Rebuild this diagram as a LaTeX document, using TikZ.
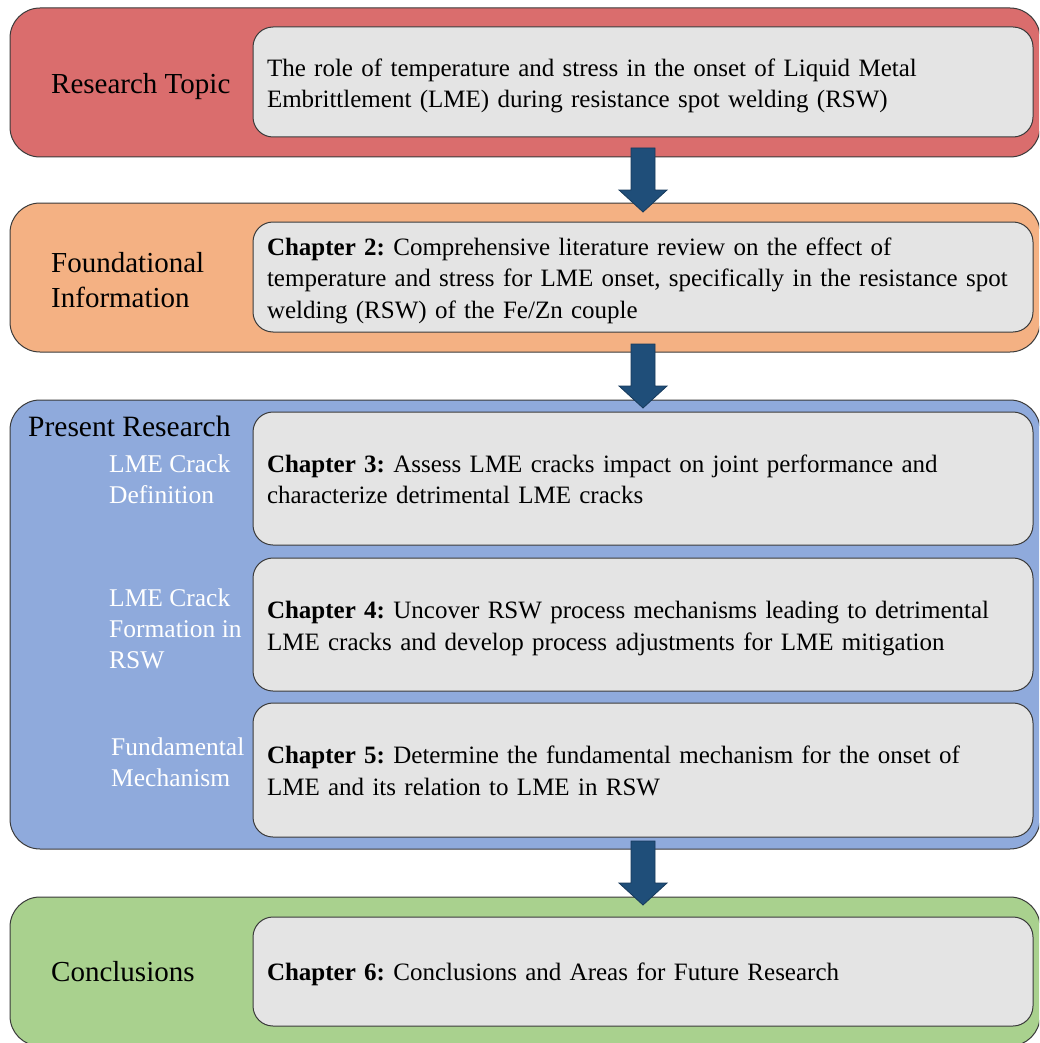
\documentclass[tikz,border=0pt]{standalone}
\usepackage{fontspec}
\setmainfont{Liberation Serif}
\usetikzlibrary{calc}
\definecolor{topicred}{HTML}{DA6D6D}
\definecolor{foundorange}{HTML}{F4B183}
\definecolor{presentblue}{HTML}{8FAADC}
\definecolor{conclgreen}{HTML}{A9D18E}
\definecolor{chapgray}{HTML}{E4E4E4}
\definecolor{arrowblue}{HTML}{1F4E79}
\definecolor{edgegray}{HTML}{3A3A3A}
\frenchspacing

\begin{document}
\begin{tikzpicture}[x=1pt,y=-1pt,
  band/.style={draw=edgegray, line width=1pt, rounded corners=30pt,
    minimum width=1030pt, inner sep=0pt},
  chapbox/.style={draw=edgegray, line width=1pt, fill=chapgray,
    rounded corners=20pt, minimum width=780pt, text width=752pt,
    inner xsep=14pt, inner ysep=0pt, align=left,
    font=\fontsize{25}{31.5}\selectfont},
  % a tall strut on the first line pushes the text block down a little
  chapdrop/.style={execute at begin node={\rule{0pt}{#1}}},
  heading/.style={font=\fontsize{29}{35}\selectfont, inner sep=0pt,
    align=left, anchor=west},
  sublabel/.style={font=\fontsize{25.5}{31}\selectfont, text=white,
    inner sep=0pt, align=left, anchor=west},
  flowarrow/.style={draw=arrowblue!75!black, fill=arrowblue,
    line width=0.8pt, line join=miter},
  pics/downarrow/.style={code={
    \draw[flowarrow] (-12pt,32pt) -- (12pt,32pt) -- (12pt,-10pt)
      -- (24pt,-10pt) -- (0pt,-32pt) -- (-24pt,-10pt) -- (-12pt,-10pt) -- cycle;}}
]
\useasboundingbox (0,0) rectangle (1039,1043);
\clip (0,0) rectangle (1039,1043);

% Research topic
\node[band, fill=topicred, minimum height=149pt] (topic) at (525,82.5) {};
\node[chapbox, chapdrop=25pt, minimum height=110pt] (topictext) at (643,82)
  {The role of temperature and stress in the onset of Liquid Metal\\
   Embrittlement (LME) during resistance spot welding (RSW)};
\node[heading] (topiclabel) at (51,87) {Research Topic};

% Foundational information
\node[band, fill=foundorange, minimum height=149pt] (found) at (525,277.5) {};
\node[chapbox, chapdrop=25pt, minimum height=110pt] (foundtext) at (643,277)
  {\textbf{Chapter 2:} Comprehensive literature review on the effect of\\
   temperature and stress for LME onset, specifically in the resistance spot\\
   welding (RSW) of the Fe/Zn couple};
\node[heading] (foundlabel) at (51,280) {Foundational\\Information};

% Present research
\node[band, fill=presentblue, minimum height=449pt] (present) at (525,624.5) {};
\node[chapbox, chapdrop=19pt, minimum height=133pt] (chthree) at (643,478.5)
  {\textbf{Chapter 3:} Assess LME cracks impact on joint performance and\\
   characterize detrimental LME cracks};
\node[chapbox, chapdrop=25pt, minimum height=133pt] (chfour) at (643,624.5)
  {\textbf{Chapter 4:} Uncover RSW process mechanisms leading to detrimental\\
   LME cracks and develop process adjustments for LME mitigation};
\node[chapbox, chapdrop=19pt, minimum height=134pt] (chfive) at (643,770)
  {\textbf{Chapter 5:} Determine the fundamental mechanism for the onset of\\
   LME and its relation to LME in RSW};
\node[heading, font=\fontsize{29.5}{35}\selectfont] (presentlabel) at (28,426) {Present Research};
\node[sublabel] (crackdef) at (109,479.5) {LME Crack\\Definition};
\node[sublabel] (crackform) at (109,629) {LME Crack\\Formation in\\RSW};
\node[sublabel] (fundmech) at (111,762) {Fundamental\\Mechanism};

% Conclusions
\node[band, fill=conclgreen, minimum height=149pt] (concl) at (525,971.5) {};
\node[chapbox, chapdrop=23pt, minimum height=109pt] (concltext) at (643,971.5)
  {\textbf{Chapter 6:} Conclusions and Areas for Future Research};
\node[heading] (concllabel) at (51,972) {Conclusions};

% Block arrows between the stages
\coordinate (gapone) at ($(topictext.center |- topic.south)!0.5!(topictext.center |- found.north)$);
\coordinate (gaptwo) at ($(foundtext.center |- found.south)!0.5!(foundtext.center |- present.north)$);
\coordinate (gapthree) at ($(chfive.center |- present.south)!0.5!(chfive.center |- concl.north)$);
\pic at (gapone) {downarrow};
\pic at (gaptwo) {downarrow};
\pic at (gapthree) {downarrow};
\end{tikzpicture}
\end{document}
